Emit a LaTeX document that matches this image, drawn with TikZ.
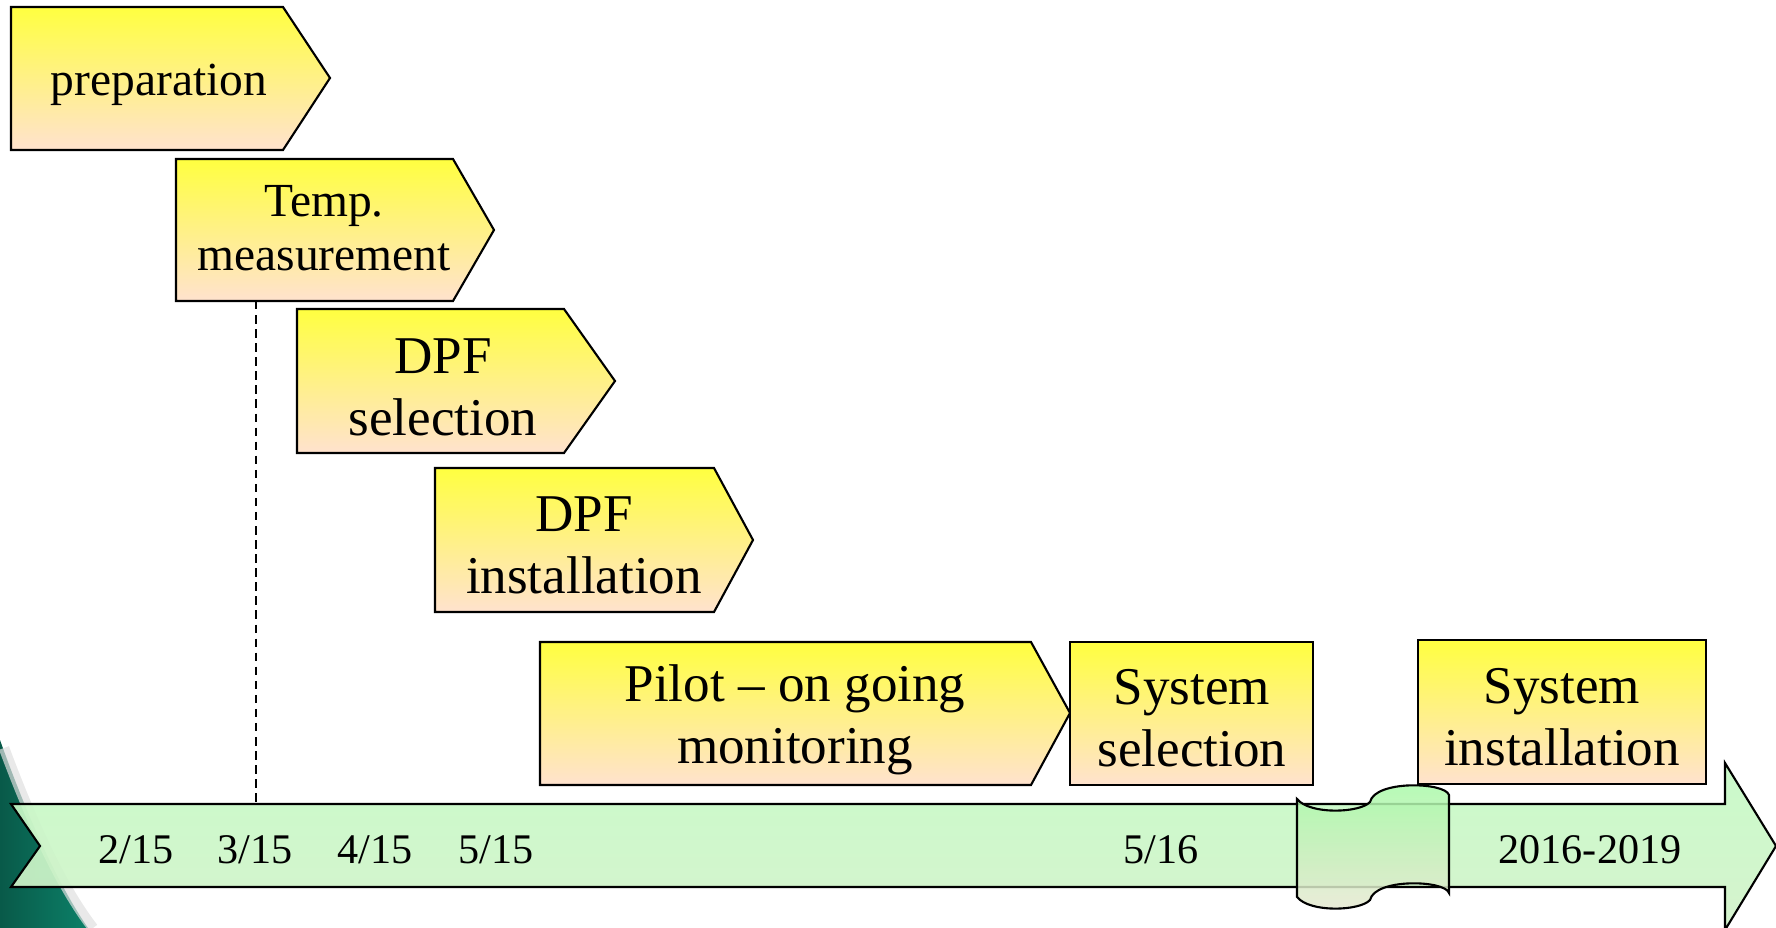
\documentclass[tikz,border=0pt]{standalone}
\usepackage{fontspec}
\setmainfont{Liberation Serif}
\usetikzlibrary{positioning}

\definecolor{phasetop}{RGB}{255,255,64}
\definecolor{phasemid}{RGB}{255,250,90}
\definecolor{phasebot}{RGB}{255,226,206}
\definecolor{bandtop}{RGB}{198,250,198}
\definecolor{bandbot}{RGB}{210,242,202}
\definecolor{breaktop}{RGB}{168,250,168}
\definecolor{breakbot}{RGB}{232,232,210}
\definecolor{corner}{RGB}{12,128,104}

\tikzset{
  phase/.style={draw=black, line width=0.6pt, top color=phasetop, middle color=phasemid, bottom color=phasebot},
  phasetext/.style={align=center, inner sep=0pt, font=\fontsize{15.1}{17.7}\selectfont},
  smalltext/.style={align=center, inner sep=0pt, font=\fontsize{13.5}{15.5}\selectfont},
  datetext/.style={inner sep=0pt, anchor=base, font=\fontsize{12}{14}\selectfont},
  band/.style={draw=black, line width=0.6pt, top color=bandtop, bottom color=bandbot, fill opacity=0.92},
  breakmark/.style={draw=black, line width=0.6pt, top color=breaktop, bottom color=breakbot, fill opacity=0.85},
}

\begin{document}
\begin{tikzpicture}[x=0.01cm, y=-0.01cm]
    \useasboundingbox (0,0) rectangle (1776,928);

    % Slide corner
    \shade[left color=corner!70!black, right color=corner] (0,740) .. controls (25,810) and (55,880) .. (88,928) -- (0,928) -- cycle;
    \draw[gray!25, line width=3pt, opacity=0.7] (4,748) .. controls (29,815) and (59,884) .. (93,928);

    % Time line
    \path[band] (11,804) -- (1725,804) -- (1725,763) -- (1776,846) -- (1725,930) -- (1725,887) -- (11,887) -- (40,846) -- cycle;
    \path[breakmark] (1297,799) .. controls (1310,815) and (1360,813) .. (1370,802)
        .. controls (1375,780) and (1445,782) .. (1449,795) -- (1449,893)
        .. controls (1445,880) and (1375,878) .. (1370,900)
        .. controls (1360,911) and (1310,913) .. (1297,897) -- cycle;
    \foreach \x/\name/\txt in {136/d1/{2/15}, 255/d2/{3/15}, 375/d3/{4/15}, 496/d4/{5/15}, 1161/d5/{5/16}, 1590/d6/{2016-2019}} {
        \node[datetext] (\name) at (\x, 863) {\txt};
    }

    % Marker at 3/15
    \coordinate (dashtop) at (256,301);
    \coordinate (dashbot) at (256,804);
    \draw[line width=0.8pt, dash pattern=on 2.4pt off 1.6pt] (dashtop) -- (dashbot);

    % Phases
    \path[phase] (11,7) -- (283,7) -- (330,78) -- (283,150) -- (11,150) -- cycle;
    \node[smalltext, anchor=base] (prep) at (159,96) {preparation};

    \path[phase] (176,159) -- (453,159) -- (494,230) -- (453,301) -- (176,301) -- cycle;
    \node[smalltext] (temp) at (324,228) {Temp.\\measurement};

    \path[phase] (297,309) -- (564,309) -- (615,381) -- (564,453) -- (297,453) -- cycle;
    \node[phasetext] (dpfsel) at (443,387) {DPF\\selection};

    \path[phase] (435,468) -- (714,468) -- (753,540) -- (714,612) -- (435,612) -- cycle;
    \node[phasetext] (dpfins) at (584,545) {DPF\\installation};

    \path[phase] (540,642) -- (1031,642) -- (1070,713) -- (1031,785) -- (540,785) -- cycle;
    \node[phasetext] (pilot) at (795,720) {Pilot -- on going\\monitoring};

    \path[phase] (1070,642) rectangle (1313,785);
    \node[phasetext] (syssel) at (1192,718) {System\\selection};

    \path[phase] (1418,640) rectangle (1706,784);
    \node[phasetext] (sysins) at (1562,717) {System\\installation};
\end{tikzpicture}
\end{document}
